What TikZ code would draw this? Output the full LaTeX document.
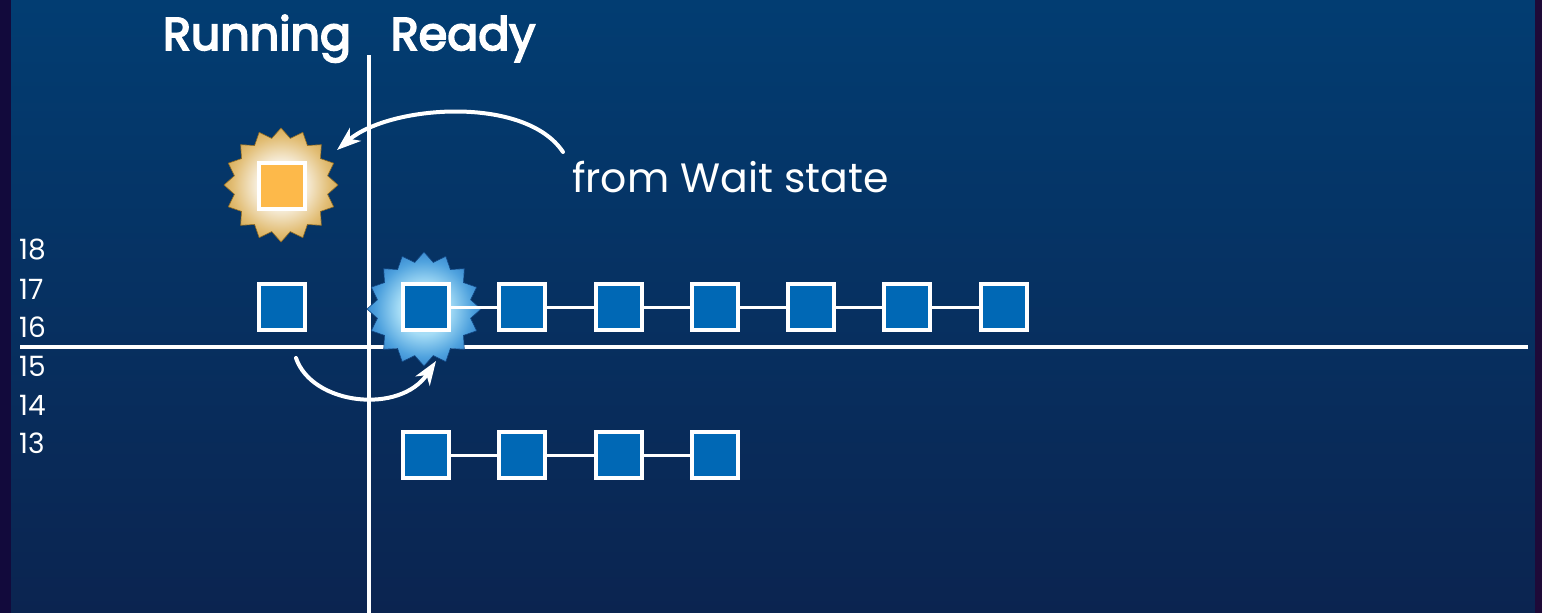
\documentclass[tikz,border=0pt]{standalone}
\usepackage{fontspec}
\setmainfont{Poppins}
\newfontfamily\headfont{Poppins}[FakeBold=4]
\usetikzlibrary{shapes.geometric,arrows.meta}

\definecolor{bgtop}{HTML}{023D72}
\definecolor{bgbot}{HTML}{0B2450}
\definecolor{edgeL}{HTML}{120A3C}
\definecolor{edgeR}{HTML}{1E0A38}
\definecolor{taskblue}{HTML}{0068B5}
\definecolor{taskorange}{HTML}{FDB94A}
\definecolor{goldA}{HTML}{C3902C}
\definecolor{goldM}{HTML}{E2BE76}
\definecolor{goldB}{HTML}{F6ECD8}
\definecolor{blueA}{HTML}{1A66BC}
\definecolor{blueM}{HTML}{4FA2DE}
\definecolor{blueB}{HTML}{A6DDF6}

% soft glow inside the bursts
\pgfdeclareradialshading{goldglow}{\pgfpoint{0bp}{0bp}}{color(0bp)=(goldB); color(11bp)=(goldB); color(21bp)=(goldM); color(33bp)=(goldA); color(50bp)=(goldA)}
\pgfdeclareradialshading{blueglow}{\pgfpoint{0bp}{0bp}}{color(0bp)=(blueB); color(11bp)=(blueB); color(21bp)=(blueM); color(33bp)=(blueA); color(50bp)=(blueA)}

\begin{document}
\begin{tikzpicture}[x=1pt,y=-1pt,
  task/.style={rectangle, draw=white, line width=4pt, fill=taskblue,
    minimum size=46pt, inner sep=0pt},
  burst/.style={star, star points=16, star point ratio=1.2,
    minimum size=114pt, inner sep=0pt, line width=0.6pt},
  link/.style={draw=white, line width=3pt},
  axis/.style={draw=white, line width=4pt},
  arr/.style={draw=white, line width=4pt, line cap=round,
    -{Stealth[length=24pt,width=17pt,inset=7pt]}},
  title/.style={text=white, font=\headfont\fontsize{46}{54}\selectfont, inner sep=0pt},
  prio/.style={text=white, font=\fontsize{28}{32}\selectfont, anchor=west, inner sep=0pt},
  label/.style={text=white, font=\fontsize{41}{48}\selectfont, anchor=west, inner sep=0pt}]

\useasboundingbox (0,0) rectangle (1542,613);

% background
\shade[top color=bgtop, bottom color=bgbot] (0,0) rectangle (1542,613);
\fill[edgeL] (0,0) rectangle (11,613);
\fill[edgeR] (1535,0) rectangle (1542,613);

% axes
\draw[axis] (369,55) -- (369,613);
\draw[axis] (20,347) -- (1528,347);

% headings
\node[title, anchor=base] (running) at (257,50) {Running};
\node[title, anchor=base] (ready) at (463,50) {Ready};

% priority levels
\node[prio] (p18) at (19,250) {18};
\node[prio] (p17) at (19,289) {17};
\node[prio] (p16) at (19,327) {16};
\node[prio] (p15) at (19,366) {15};
\node[prio] (p14) at (19,405) {14};
\node[prio] (p13) at (19,443) {13};

% thread woken from the wait state
\node[burst, shading=goldglow, draw=goldA!75!black] (gb) at (281,185) {};
\node[task, fill=taskorange] (woken) at (282,186) {};

% running thread
\node[task] (run) at (282,307) {};

% ready queue, priority 16
\node[burst, shading=blueglow, draw=blueA!70!black] (bb) at (424,309) {};
\node[task] (r1) at (426,307) {};
\node[task] (r2) at (522,307) {};
\node[task] (r3) at (619,307) {};
\node[task] (r4) at (715,307) {};
\node[task] (r5) at (811,307) {};
\node[task] (r6) at (907,307) {};
\node[task] (r7) at (1004,307) {};
\foreach \a/\b in {r1/r2,r2/r3,r3/r4,r4/r5,r5/r6,r6/r7}
  \draw[link] (\a) -- (\b);

% ready queue, priority 13
\node[task] (q1) at (426,455) {};
\node[task] (q2) at (522,455) {};
\node[task] (q3) at (619,455) {};
\node[task] (q4) at (715,455) {};
\foreach \a/\b in {q1/q2,q2/q3,q3/q4}
  \draw[link] (\a) -- (\b);

% label and transitions
\node[label] (wait) at (572,177) {from Wait state};
\coordinate (wsrc) at (563,152);
\coordinate (wtip) at (337,150);
\draw[arr] (wsrc) .. controls (525,95) and (390,105) .. (wtip);

\coordinate (psrc) at (296,358);
\coordinate (ptip) at (436,361);
\draw[arr] (psrc) .. controls (312,405) and (400,415) .. (ptip);
\end{tikzpicture}
\end{document}
